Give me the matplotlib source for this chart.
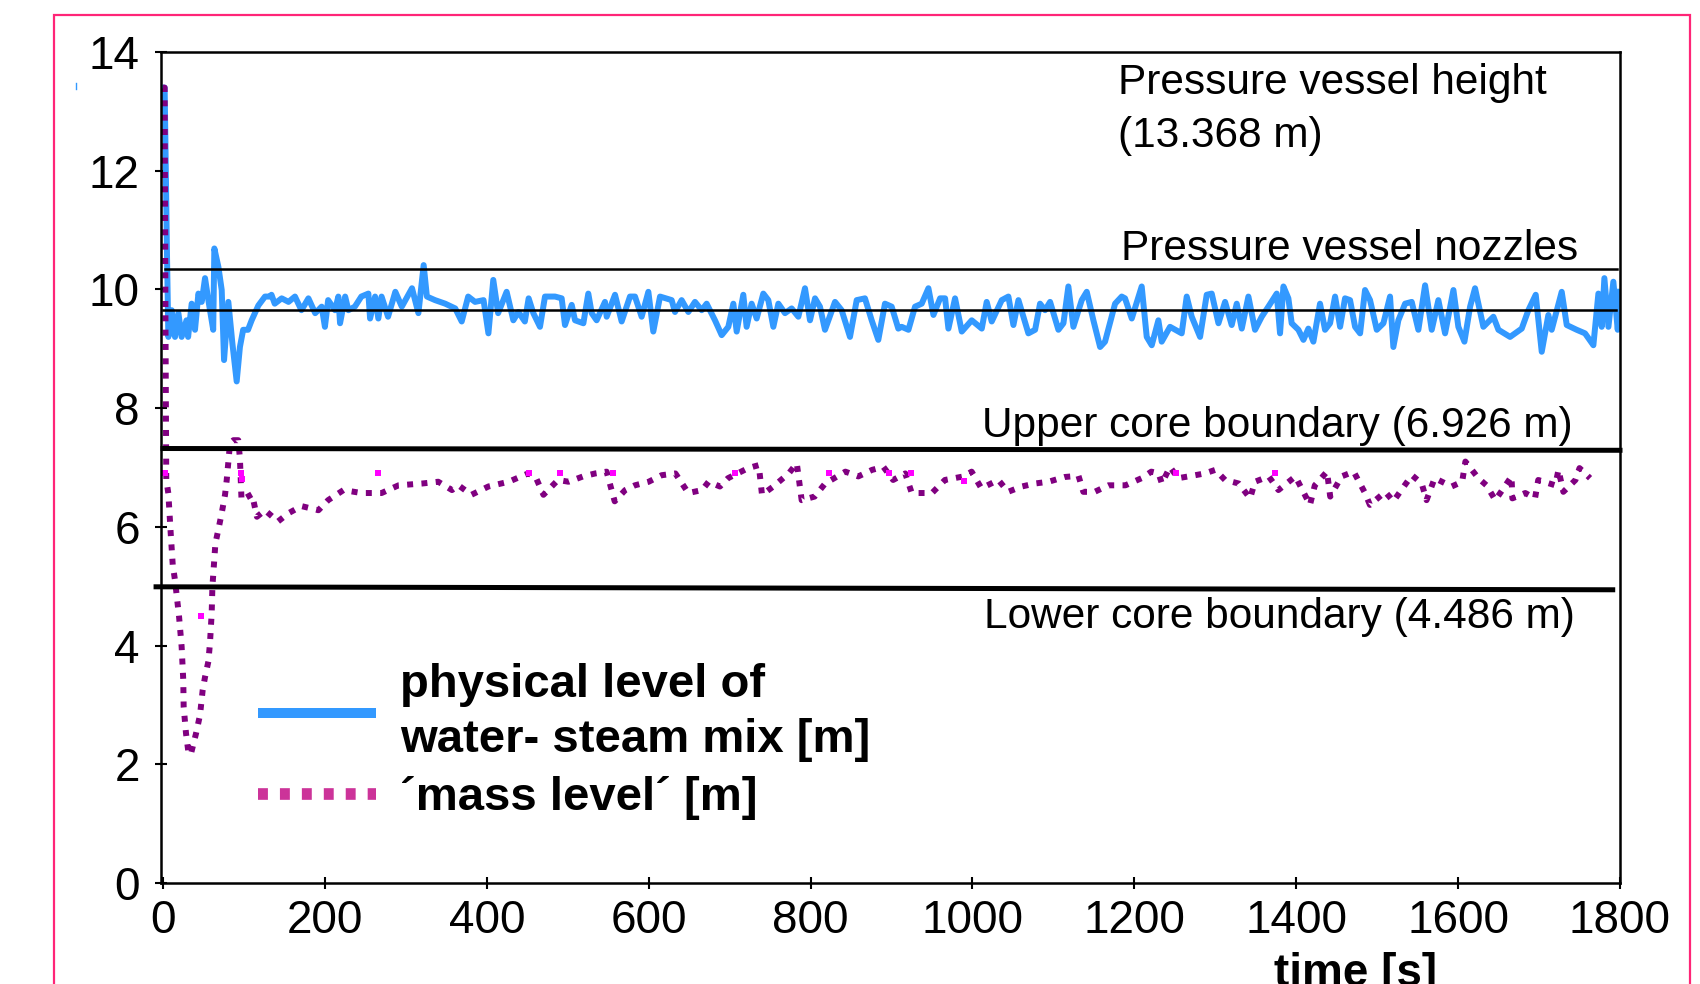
import matplotlib
matplotlib.use("Agg")
import matplotlib.pyplot as plt
from matplotlib.lines import Line2D
from matplotlib.patches import Rectangle

plt.rcParams["font.family"] = ["Liberation Sans", "DejaVu Sans"]

# physical level of water-steam mix
blue_t = [0, 2, 5, 6.6, 10.7, 14.8, 19, 23, 29, 31, 35.4, 39.5, 43.7, 47.8, 51.9, 56, 62, 63.4, 68.4,
          72.5, 75.4, 80.7, 85.7, 91, 95, 99, 105, 109.5, 117.8, 126, 132, 134, 138, 146.6, 155, 163,
          171, 179.6, 188, 196, 200, 204, 212.5, 216.6, 218.7, 225, 229, 237, 245, 253.7, 255.8, 262,
          266, 270, 278, 287, 295, 307.6, 315.5, 322, 326, 336, 348.6, 361, 369, 377, 385.5, 396, 402,
          408, 414, 424.5, 432.8, 439, 447, 451.7, 457.5, 465.7, 471.9, 484.3, 492.5, 496.6, 504.9,
          509, 519.3, 525.4, 529.6, 535.7, 546, 548.1, 558.4, 566.6, 576.9, 583.1, 591.3, 599.6, 605.7,
          614, 628.4, 632.5, 640.7, 649, 657.2, 665.5, 671.6, 681.9, 690.2, 698.4, 704.6, 708.7, 716.9,
          721, 727.2, 733.4, 741.6, 747.8, 754, 760.2, 768.4, 776.6, 784.9, 793.1, 799.3, 805.5, 811.6,
          817.8, 830.2, 838.4, 848.7, 857, 867.2, 875.5, 883.7, 891.9, 900.2, 908.4, 912.6, 920.9,
          929.1, 937.3, 945.6, 951.8, 960, 966.2, 970.3, 978.5, 986.8, 999.1, 1011.5, 1017.6, 1023.8,
          1036.2, 1044.4, 1050.6, 1056.8, 1069.1, 1077.4, 1083.5, 1089.7, 1095.9, 1106.2, 1112.4,
          1118.5, 1124.7, 1135, 1141.2, 1149.4, 1157.7, 1163.8, 1176.2, 1184.4, 1188.5, 1196.8, 1209.1,
          1215.3, 1221.5, 1229.7, 1233.8, 1244.1, 1258.5, 1264.7, 1270.9, 1281.2, 1289.4, 1295.6,
          1303.9, 1312.1, 1320.3, 1326.5, 1332.7, 1340.9, 1349.1, 1357.4, 1365.6, 1375.9, 1380, 1384.2,
          1390.3, 1394.4, 1402.7, 1408.9, 1415, 1421.2, 1429.4, 1435.6, 1441.8, 1448, 1454.2, 1460.3,
          1466.5, 1472.7, 1478.9, 1485, 1491.2, 1499.5, 1507.7, 1515.9, 1520, 1526.2, 1534.5, 1542.7,
          1550.9, 1559.2, 1567.4, 1575.6, 1583.9, 1594.2, 1600.3, 1607.8, 1614.8, 1620.9, 1631.2,
          1643.6, 1649.8, 1664.2, 1678.6, 1686.8, 1695.9, 1703.3, 1711.5, 1715.6, 1728, 1734.2, 1746.5,
          1756.8, 1767.1, 1773.3, 1777.4, 1780.7, 1785.7, 1791.8, 1797.2, 1800]
blue_level = [13.4, 13.4, 10.5, 9.2, 9.65, 9.2, 9.6, 9.2, 9.48, 9.2, 9.76, 9.32, 9.93, 9.79, 10.19, 9.82,
              9.32, 10.69, 10.38, 9.99, 8.81, 9.79, 9.09, 8.45, 9.03, 9.32, 9.32, 9.48, 9.73, 9.88, 9.88,
              9.91, 9.76, 9.85, 9.79, 9.88, 9.65, 9.85, 9.6, 9.71, 9.37, 9.82, 9.65, 9.88, 9.43, 9.88,
              9.65, 9.71, 9.88, 9.93, 9.51, 9.88, 9.51, 9.88, 9.54, 9.96, 9.71, 10.02, 9.6, 10.41, 9.88,
              9.82, 9.76, 9.68, 9.46, 9.88, 9.79, 9.82, 9.26, 10.16, 9.6, 9.96, 9.48, 9.62, 9.46, 9.85,
              9.6, 9.37, 9.88, 9.88, 9.85, 9.4, 9.74, 9.48, 9.43, 9.93, 9.6, 9.48, 9.79, 9.54, 9.91, 9.46,
              9.88, 9.88, 9.54, 9.96, 9.29, 9.88, 9.82, 9.62, 9.82, 9.62, 9.79, 9.65, 9.76, 9.48, 9.23,
              9.37, 9.76, 9.29, 9.91, 9.37, 9.76, 9.51, 9.93, 9.82, 9.37, 9.76, 9.6, 9.68, 9.54, 10.02,
              9.48, 9.85, 9.71, 9.32, 9.79, 9.65, 9.2, 9.82, 9.85, 9.48, 9.15, 9.76, 9.71, 9.34, 9.37,
              9.32, 9.71, 9.76, 10.02, 9.57, 9.85, 9.85, 9.34, 9.85, 9.29, 9.48, 9.34, 9.79, 9.46, 9.82,
              9.88, 9.4, 9.82, 9.26, 9.32, 9.76, 9.65, 9.79, 9.32, 9.43, 10.05, 9.37, 9.82, 9.96, 9.48,
              9.03, 9.12, 9.76, 9.88, 9.85, 9.51, 10.05, 9.2, 9.06, 9.48, 9.12, 9.37, 9.26, 9.88, 9.54,
              9.2, 9.91, 9.93, 9.43, 9.79, 9.4, 9.76, 9.34, 9.88, 9.32, 9.54, 9.71, 9.93, 9.26, 10.05,
              9.85, 9.43, 9.32, 9.15, 9.34, 9.12, 9.76, 9.32, 9.43, 9.88, 9.37, 9.85, 9.82, 9.37, 9.26,
              9.99, 9.82, 9.32, 9.43, 9.88, 9.03, 9.48, 9.76, 9.79, 9.32, 10.07, 9.32, 9.82, 9.26, 9.99,
              9.37, 9.12, 9.71, 10.02, 9.37, 9.54, 9.32, 9.2, 9.34, 9.65, 9.91, 8.95, 9.57, 9.32, 9.96,
              9.4, 9.32, 9.26, 9.06, 9.93, 9.37, 10.19, 9.37, 10.13, 9.32, 9.96]

# 'mass level'
mass_t = [0, 2, 3, 4, 6.6, 9.5, 12, 14.8, 19.8, 23, 25, 25.5, 28.4, 31.3, 34.2, 40.8, 45.7, 49, 51.9,
          56, 58, 60.1, 61, 63, 64.7, 68.3, 72.5, 76.6, 78.7, 82.8, 87, 93, 95, 97, 110, 116, 126, 142,
          155, 171, 192, 204, 223, 245, 270, 291, 320, 340, 357, 365, 381, 402, 427, 451, 460, 470,
          488, 501, 519, 534, 548, 558, 571, 583, 600, 616, 633, 649, 666, 674, 688, 698, 723, 736,
          740, 754, 773, 783, 789, 805, 818, 843, 859, 876, 890, 902, 917, 925, 950, 966, 989, 999,
          1011, 1032, 1044, 1061, 1077, 1094, 1114, 1131, 1137, 1151, 1168, 1189, 1209, 1221, 1230,
          1234, 1244, 1254, 1267, 1287, 1300, 1312, 1329, 1343, 1349, 1366, 1378, 1399, 1417, 1423,
          1438, 1442, 1456, 1471, 1485, 1491, 1510, 1520, 1534, 1543, 1555, 1561, 1571, 1592, 1605,
          1609, 1625, 1635, 1646, 1666, 1667, 1683, 1695, 1699, 1720, 1724, 1730, 1745, 1750, 1763]
mass_level = [13.4, 13.4, 9.5, 6.8, 6.56, 5.89, 5.36, 5.1, 4.49, 3.98, 3.42, 2.97, 2.52, 2.21, 2.16,
              2.52, 2.83, 3.25, 3.47, 3.73, 4.04, 4.54, 4.99, 5.39, 5.72, 5.95, 6.23, 6.54, 6.79, 7.41,
              7.46, 7.46, 7.15, 6.45, 6.55, 6.17, 6.28, 6.09, 6.23, 6.35, 6.28, 6.45, 6.62, 6.57, 6.57,
              6.7, 6.73, 6.76, 6.62, 6.7, 6.54, 6.68, 6.76, 6.9, 6.85, 6.54, 6.79, 6.76, 6.85, 6.9, 6.93,
              6.43, 6.62, 6.7, 6.76, 6.87, 6.9, 6.57, 6.62, 6.76, 6.68, 6.82, 6.99, 7.04, 6.54, 6.68, 6.9,
              7.07, 6.45, 6.51, 6.73, 6.93, 6.85, 6.96, 7.01, 6.79, 6.9, 6.57, 6.57, 6.79, 6.85, 6.93,
              6.65, 6.79, 6.59, 6.68, 6.73, 6.76, 6.84, 6.86, 6.59, 6.59, 6.7, 6.7, 6.82, 6.93, 6.9,
              6.73, 7.01, 6.82, 6.85, 6.9, 6.96, 6.79, 6.73, 6.48, 6.76, 6.85, 6.62, 6.85, 6.37, 6.7,
              6.93, 6.51, 6.85, 6.93, 6.57, 6.37, 6.59, 6.43, 6.7, 6.87, 6.73, 6.45, 6.82, 6.68, 6.76,
              7.1, 6.82, 6.7, 6.45, 6.85, 6.48, 6.57, 6.48, 6.79, 6.7, 6.96, 6.59, 6.79, 6.99, 6.82]

# stray bright markers on the mass level curve
spot_t = [2.5, 47, 96, 98, 265, 452, 490, 556, 707, 823, 897, 924, 989, 1252, 1374]
spot_level = [6.91, 4.49, 6.91, 6.8, 6.9, 6.91, 6.91, 6.91, 6.91, 6.91, 6.91, 6.91, 6.77, 6.91, 6.91]

# reference levels: (t start, t end), (level start, level end)
nozzle_hi_t, nozzle_hi = [2.5, 1796], [10.34, 10.34]
nozzle_lo_t, nozzle_lo = [0, 1795], [9.66, 9.66]
core_up_t, core_up = [0, 1800], [7.32, 7.29]
core_lo_t, core_lo = [-8.6, 1791], [4.99, 4.94]

x_ticks = list(range(0, 1801, 200))
y_ticks = list(range(0, 15, 2))

blue = "#3399FF"
purple = "#800080"

fig = plt.figure(figsize=(17, 9.84), dpi=100)
W, H = 1700, 984
ax = fig.add_axes([161 / W, 1 - 883 / H, (1620 - 161) / W, (883 - 52) / H])

ax.plot(blue_t, blue_level, color=blue, lw=4.3, solid_joinstyle="round", zorder=2)
ax.plot(mass_t, mass_level, color=purple, lw=4.3, ls=(0, (1, 1.4)), dash_capstyle="butt", zorder=2)
ax.plot(spot_t, spot_level, ls="none", marker="s", ms=4.3, mew=0, color="#FF00FF", zorder=2)

ax.plot(nozzle_hi_t, nozzle_hi, color="black", lw=1.8, zorder=3)
ax.plot(nozzle_lo_t, nozzle_lo, color="black", lw=1.8, zorder=3)
ax.plot(core_up_t, core_up, color="black", lw=3.6, zorder=3, clip_on=False)
ax.plot(core_lo_t, core_lo, color="black", lw=3.6, zorder=3, clip_on=False)

ax.set_xlim(-2.5, 1800)
ax.set_ylim(0, 14)
ax.set_xticks(x_ticks)
ax.set_yticks(y_ticks)
ax.tick_params(direction="inout", length=8.6, width=1.5, labelsize=33)
ax.tick_params(axis="y", pad=11)
ax.tick_params(axis="x", pad=7)
for s in ax.spines.values():
    s.set_linewidth(1.8)

fs = 30.5
ax.text(1180, 13.30, "Pressure vessel height", fontsize=fs, va="baseline")
ax.text(1180, 12.40, "(13.368 m)", fontsize=fs, va="baseline")
ax.text(1183, 10.50, "Pressure vessel nozzles", fontsize=fs, va="baseline")
ax.text(1012, 7.52, "Upper core boundary (6.926 m)", fontsize=fs, va="baseline")
ax.text(1014, 4.29, "Lower core boundary (4.486 m)", fontsize=fs, va="baseline")
ax.text(1473, -1.74, "time [s]", fontsize=33, fontweight="bold", ha="center", va="baseline",
        clip_on=False)

handles = [Line2D([], [], color=blue, lw=7.2, solid_capstyle="butt"),
           Line2D([], [], color="#CC3399", lw=8.4, ls=(0, (0.85, 1.03)), dash_capstyle="butt")]
labels = ["physical level of\nwater- steam mix [m]", "\u00b4mass level\u00b4 [m]"]
leg = ax.legend(handles, labels, loc="upper left", bbox_to_anchor=(258 / W, 1 - 663 / H),
                bbox_transform=fig.transFigure, frameon=False, borderpad=0, borderaxespad=0,
                handlelength=2.5, handletextpad=0.5, labelspacing=0.3,
                prop={"size": 34, "weight": "bold"})
for t in leg.get_texts():
    t.set_linespacing(1.33)

fig.add_artist(Rectangle((54 / W, -0.1), (1690 - 54) / W, 1.1 - 15 / H, transform=fig.transFigure,
                         fill=False, ec="#FF2577", lw=1.6))
fig.add_artist(Line2D([76 / W, 76 / W], [1 - 83 / H, 1 - 89 / H], color=blue, lw=1))

fig.savefig("out.png", dpi=100)
